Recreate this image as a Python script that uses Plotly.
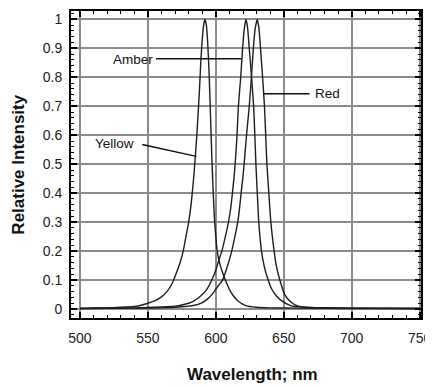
import plotly.graph_objects as go

# ---- data ----
yellow_wl = [500, 510, 520, 530, 540, 545, 550, 555, 560, 564, 568, 571, 574, 576, 578, 580,
             582, 584, 586, 588, 589, 590, 591, 592, 593, 594, 595, 596, 597, 598, 599, 600,
             601, 603, 605, 607, 610, 613, 617, 622, 630, 640, 660, 700, 750]
yellow_i = [0.002, 0.004, 0.004, 0.006, 0.009, 0.013, 0.02, 0.028, 0.042, 0.06, 0.09, 0.125,
            0.165, 0.2, 0.25, 0.3, 0.37, 0.47, 0.6, 0.76, 0.86, 0.93, 0.98, 1.0, 0.98, 0.92,
            0.82, 0.68, 0.53, 0.41, 0.31, 0.25, 0.2, 0.155, 0.125, 0.1, 0.068, 0.045, 0.025,
            0.012, 0.006, 0.004, 0.003, 0.002, 0.002]

amber_wl = [500, 520, 540, 550, 560, 570, 575, 580, 584, 587, 590, 593, 597, 600, 602, 604.4,
            607, 609.3, 611, 612.2, 613.3, 614.2, 615.6, 616.6, 618.3, 619.7, 621, 622.2, 623.4,
            624.6, 626.3, 627.8, 628.7, 629.5, 630.5, 631.6, 633.6, 635.5, 638.5, 641, 644.6,
            648, 655, 665, 680, 700, 750]
amber_i = [0.002, 0.003, 0.004, 0.005, 0.007, 0.01, 0.014, 0.02, 0.028, 0.038, 0.05, 0.065,
           0.1, 0.135, 0.165, 0.2, 0.25, 0.3, 0.35, 0.4, 0.45, 0.5, 0.6, 0.7, 0.8, 0.9, 0.97,
           1.0, 0.97, 0.9, 0.8, 0.7, 0.6, 0.5, 0.4, 0.3, 0.2, 0.15, 0.1, 0.07, 0.045, 0.03,
           0.012, 0.006, 0.004, 0.003, 0.002]

red_wl = [500, 540, 560, 570, 575, 580, 585, 587.4, 590, 594, 598, 601, 604.9, 608, 611.7, 614,
          616.1, 617.5, 618.6, 619.8, 620.8, 622.6, 624.6, 626.2, 627.6, 629, 630.5, 631.7,
          632.9, 634.4, 635.8, 636.7, 637.6, 639, 640.5, 642.9, 644.5, 647.1, 650.7, 655,
          660.5, 670, 690, 750]
red_i = [0.002, 0.003, 0.004, 0.006, 0.008, 0.01, 0.014, 0.017, 0.022, 0.035, 0.055, 0.075,
         0.1, 0.14, 0.2, 0.25, 0.3, 0.35, 0.4, 0.45, 0.5, 0.6, 0.7, 0.8, 0.9, 0.97, 1.0, 0.97,
         0.9, 0.8, 0.7, 0.6, 0.5, 0.4, 0.3, 0.2, 0.15, 0.1, 0.05, 0.025, 0.01, 0.005, 0.003,
         0.002]

x_ticks = [500, 550, 600, 650, 700, 750]
y_ticks = [0, 0.1, 0.2, 0.3, 0.4, 0.5, 0.6, 0.7, 0.8, 0.9, 1]
y_tick_labels = ["0", "0.1", "0.2", "0.3", "0.4", "0.5", "0.6", "0.7", "0.8", "0.9", "1"]

labels = ["Amber", "Yellow", "Red"]

FONT = "Liberation Sans, Arial, sans-serif"
LINE = "#1e1e1e"

# page body has an 8px margin: figure is drawn 8px in from the window corner
W, H = 425, 379
ML, MR, MT, MB = 63, 11, 1, 69
PW = W - ML - MR
PH = H - MT - MB

fig = go.Figure()
for wl, inten, name in [(yellow_wl, yellow_i, "Yellow"), (amber_wl, amber_i, "Amber"), (red_wl, red_i, "Red")]:
    fig.add_trace(go.Scatter(x=wl, y=inten, mode="lines", name=name,
                             line=dict(color=LINE, width=1.4, shape="spline", smoothing=0.5),
                             showlegend=False))

leaders = [
    (556.0, 0.864, 618.6, 0.864, 555.0, 0.862, "right"),
    (545.8, 0.568, 585.6, 0.527, 541.5, 0.57, "right"),
    (635.0, 0.743, 669.0, 0.743, 671.5, 0.743, "left"),
]
for (x0, y0, x1, y1, tx, ty, anc), lab in zip(leaders, labels):
    fig.add_shape(type="line", xref="x", yref="y", x0=x0, y0=y0, x1=x1, y1=y1,
                  line=dict(color="#111", width=1.5))
    fig.add_annotation(x=tx, y=ty, xref="x", yref="y", text=lab, showarrow=False,
                       xanchor=anc, yanchor="middle",
                       font=dict(family=FONT, size=13.5, color="#111"))

axis_common = dict(showline=True, linecolor="#000", linewidth=2, mirror="allticks",
                   ticks="inside", ticklen=6, tickwidth=1.5, tickcolor="#000",
                   showgrid=True, gridcolor="#8c8c8c", gridwidth=1.5, zeroline=False,
                   tickfont=dict(family=FONT, size=14, color="#222"))

fig.update_xaxes(range=[493.4, 751], tickvals=x_ticks, ticktext=[str(v) for v in x_ticks],
                 minor=dict(ticks="inside", dtick=10, tick0=500, ticklen=3, tickwidth=1.2,
                            tickcolor="#000", showgrid=False),
                 ticklabelstandoff=6, **axis_common)
fig.update_yaxes(range=[-0.031, 1.029], tickvals=y_ticks, ticktext=y_tick_labels,
                 minor=dict(ticks="inside", dtick=0.02, tick0=0, ticklen=3, tickwidth=1.2,
                            tickcolor="#000", showgrid=False),
                 ticklabelstandoff=4, **axis_common)

# axis titles (positions in window pixels converted to paper coords)
fig.add_annotation(x=(253 - 71) / PW, y=(318 - 375) / PH, xref="paper", yref="paper",
                   text="<b>Wavelength; nm</b>", showarrow=False, xanchor="center", yanchor="middle",
                   font=dict(family=FONT, size=17, color="#111"))
fig.add_annotation(x=(18 - 71) / PW, y=0.5, xref="paper", yref="paper",
                   text="<b>Relative Intensity</b>", showarrow=False, textangle=-90,
                   xanchor="center", yanchor="middle",
                   font=dict(family=FONT, size=17, color="#111"))

fig.update_layout(width=W, height=H, margin=dict(l=ML, r=MR, t=MT, b=MB, pad=0),
                  paper_bgcolor="white", plot_bgcolor="white", showlegend=False)

fig.write_html("out.html")
